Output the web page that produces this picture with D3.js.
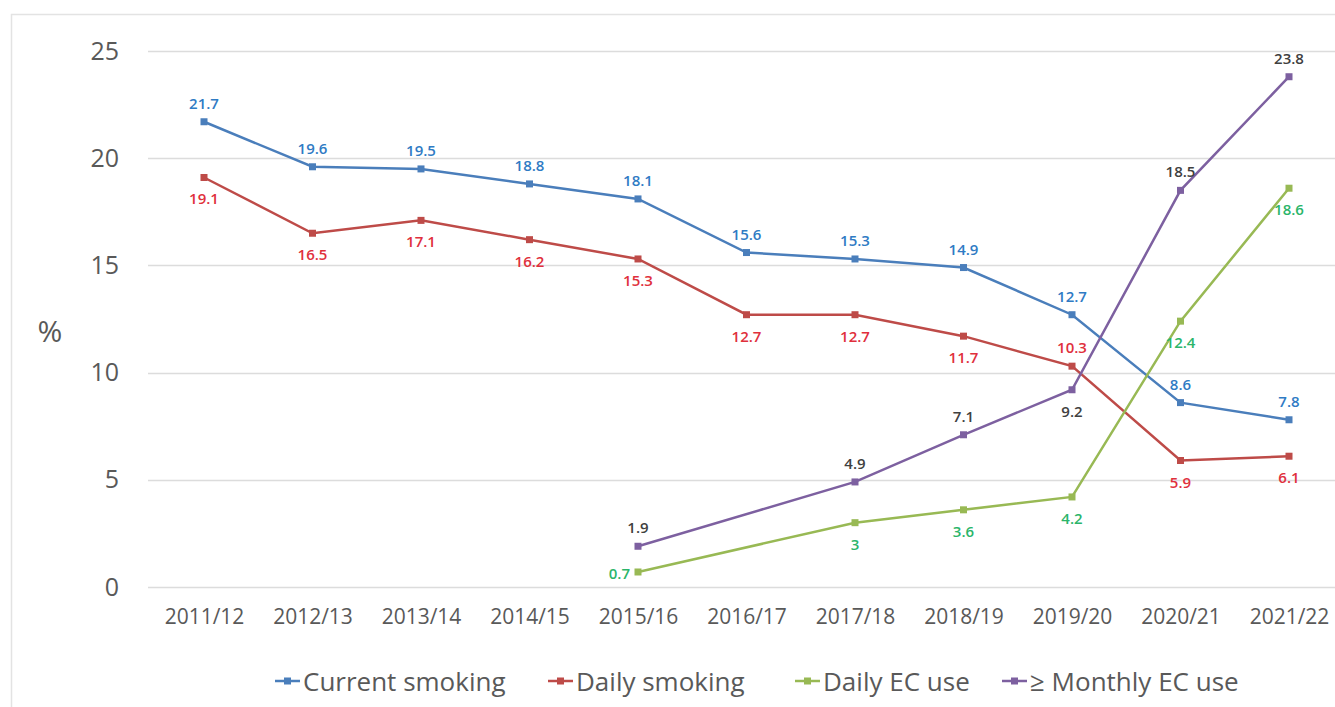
<!DOCTYPE html>
<html>
<head>
<meta charset="utf-8">
<script src="https://cdn.jsdelivr.net/npm/d3@7"></script>
<style>
  body { margin: 0; background: #fff; }
  svg { display: block; font-family: "Open Sans", Lato, sans-serif; }
</style>
</head>
<body>
<svg id="chart" width="1335" height="707"></svg>
<script>
// data
var years = ["2011/12", "2012/13", "2013/14", "2014/15", "2015/16", "2016/17",
             "2017/18", "2018/19", "2019/20", "2020/21", "2021/22"];
var currentSmoking = [21.7, 19.6, 19.5, 18.8, 18.1, 15.6, 15.3, 14.9, 12.7, 8.6, 7.8];
var dailySmoking   = [19.1, 16.5, 17.1, 16.2, 15.3, 12.7, 12.7, 11.7, 10.3, 5.9, 6.1];
var dailyEC        = [null, null, null, null, 0.7, null, 3, 3.6, 4.2, 12.4, 18.6];
var monthlyEC      = [null, null, null, null, 1.9, null, 4.9, 7.1, 9.2, 18.5, 23.8];
var yTicks = [0, 5, 10, 15, 20, 25];

// where each data label sits: a = above, b = below, l = left
var series = [
  { name: "Current smoking", values: currentSmoking, line: "#4a7ebb", label: "#2f7bc4",
    pos: ["a","a","a","a","a","a","a","a","a","a","a"] },
  { name: "Daily smoking", values: dailySmoking, line: "#be4b48", label: "#e0303c",
    pos: ["b","b","b","b","b","b","b","b","a","b","b"] },
  { name: "Daily EC use", values: dailyEC, line: "#98b954", label: "#2bb56a",
    pos: ["b","b","b","b","l","b","b","b","b","b","b"] },
  { name: "\u2265 Monthly EC use", values: monthlyEC, line: "#7d60a0", label: "#404040",
    pos: ["a","a","a","a","a","a","a","a","b","a","a"] }
];

var svg = d3.select("#chart");

// outer frame
svg.append("rect")
  .attr("x", 11.5).attr("y", 14.5)
  .attr("width", 1340).attr("height", 700)
  .attr("fill", "none").attr("stroke", "#e3e3e3").attr("stroke-width", 1.5);

var x = d3.scalePoint().domain(years).range([204, 1289]);
var y = d3.scaleLinear().domain([0, 25]).range([587, 51]);

// gridlines
svg.append("g").selectAll("line")
  .data(yTicks).enter().append("line")
  .attr("x1", 148).attr("x2", 1335)
  .attr("y1", function(d) { return Math.round(y(d)) + 0.5; })
  .attr("y2", function(d) { return Math.round(y(d)) + 0.5; })
  .attr("stroke", "#dcdcdc").attr("stroke-width", 1.5);

// y axis labels
var yAxis = d3.axisLeft(y).tickValues(yTicks).tickSize(0).tickPadding(0);
var gy = svg.append("g").attr("transform", "translate(119,0)").call(yAxis);
gy.select(".domain").remove();
gy.selectAll("text")
  .attr("font-size", 25).attr("fill", "#595959")
  .attr("font-family", "'Open Sans', Lato, sans-serif");

svg.append("text")
  .attr("x", 50).attr("y", 330)
  .attr("text-anchor", "middle").attr("dominant-baseline", "central")
  .attr("font-size", 30).attr("fill", "#595959")
  .text("%");

// x axis labels
var xAxis = d3.axisBottom(x).tickSize(0).tickPadding(0);
var gx = svg.append("g").attr("transform", "translate(0,609)").call(xAxis);
gx.select(".domain").remove();
gx.selectAll("text")
  .attr("font-size", 21).attr("fill", "#595959")
  .attr("font-family", "'Open Sans', Lato, sans-serif");

var line = d3.line()
  .x(function(d) { return x(d.year); })
  .y(function(d) { return y(d.value); });

series.forEach(function(s) {
  var pts = [];
  s.values.forEach(function(v, i) {
    if (v !== null) pts.push({ year: years[i], value: v, pos: s.pos[i] });
  });

  svg.append("path")
    .datum(pts)
    .attr("d", line)
    .attr("fill", "none")
    .attr("stroke", s.line)
    .attr("stroke-width", 2.5);

  svg.append("g").selectAll("rect")
    .data(pts).enter().append("rect")
    .attr("x", function(d) { return x(d.year) - 3.5; })
    .attr("y", function(d) { return y(d.value) - 3.5; })
    .attr("width", 7).attr("height", 7)
    .attr("fill", s.line);

  svg.append("g").selectAll("text")
    .data(pts).enter().append("text")
    .attr("x", function(d) { return d.pos === "l" ? x(d.year) - 8 : x(d.year); })
    .attr("y", function(d) {
      if (d.pos === "a") return y(d.value) - 19;
      if (d.pos === "b") return y(d.value) + 21;
      return y(d.value) + 1;
    })
    .attr("text-anchor", function(d) { return d.pos === "l" ? "end" : "middle"; })
    .attr("dominant-baseline", "central")
    .attr("font-size", 15).attr("font-weight", 600)
    .attr("fill", s.label)
    .text(function(d) { return d.value; });
});

// legend
var legendX = [275, 548, 795, 1002];
var leg = svg.append("g").selectAll("g")
  .data(series).enter().append("g")
  .attr("transform", function(d, i) { return "translate(" + legendX[i] + ",681)"; });
leg.append("line")
  .attr("x1", 0).attr("x2", 25).attr("y1", 0).attr("y2", 0)
  .attr("stroke", function(d) { return d.line; }).attr("stroke-width", 2.5);
leg.append("rect")
  .attr("x", 9).attr("y", -3.5).attr("width", 7).attr("height", 7)
  .attr("fill", function(d) { return d.line; });
leg.append("text")
  .attr("x", 28).attr("y", 0)
  .attr("dominant-baseline", "central")
  .attr("font-size", 26).attr("fill", "#595959")
  .text(function(d) { return d.name; });
</script>
</body>
</html>
